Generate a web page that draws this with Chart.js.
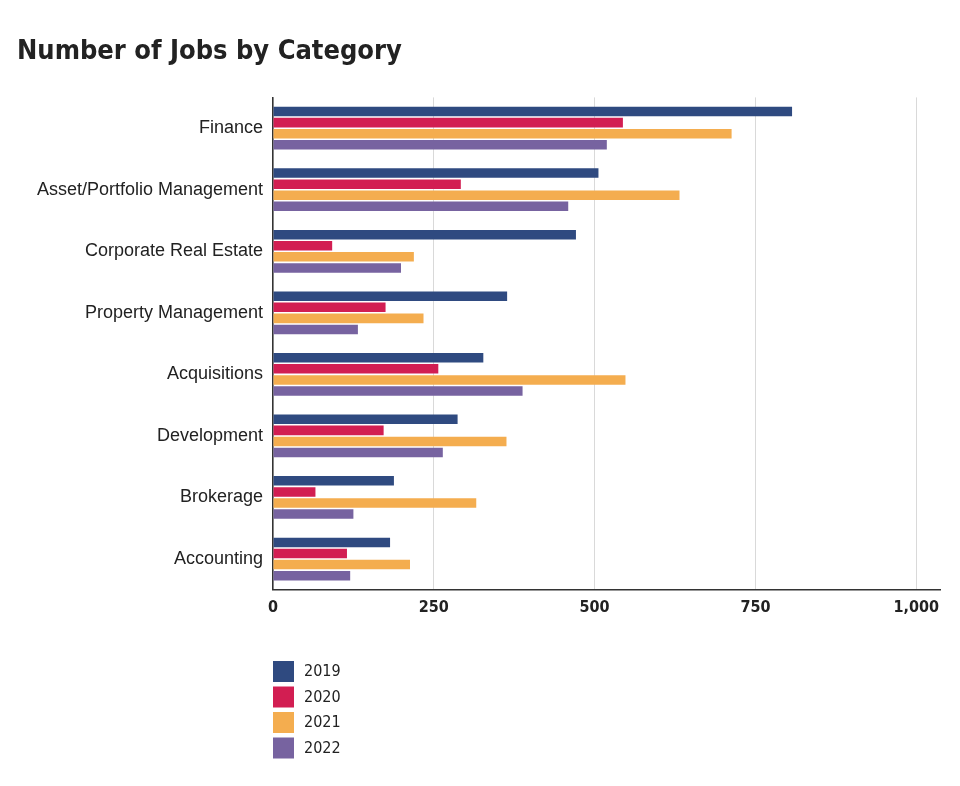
<!DOCTYPE html>
<html>
<head>
<meta charset="utf-8">
<script src="https://cdn.jsdelivr.net/npm/chart.js@4.4.1/dist/chart.umd.min.js"></script>
<style>
  html, body { margin: 0; padding: 0; background: #fff; }
  #wrap { width: 960px; height: 786px; }
</style>
</head>
<body>
<div id="wrap"><canvas id="myChart" width="960" height="786"></canvas></div>
<script>
// values
const categories = ['Finance', 'Asset/Portfolio Management', 'Corporate Real Estate', 'Property Management',
  'Acquisitions', 'Development', 'Brokerage', 'Accounting']
const years = ['2019', '2020', '2021', '2022']
const jobs2019 = [807, 506, 471, 364, 327, 287, 188, 182]
const jobs2020 = [544, 292, 92, 175, 257, 172, 66, 115]
const jobs2021 = [713, 632, 219, 234, 548, 363, 316, 213]
const jobs2022 = [519, 459, 199, 132, 388, 264, 125, 120]
const xTicks = [0, 250, 500, 750, 1000]
const colors = ['#2f4a80', '#d21e52', '#f4ad4f', '#7763a0']

const narrow = '"DejaVu Sans Condensed", "Liberation Sans Narrow", sans-serif'
const canvas = document.getElementById('myChart')

// legend as a vertical list under the chart
const listLegend = {
  id: 'listLegend',
  afterDraw(chart) {
    const ctx = chart.ctx
    ctx.save()
    ctx.font = '16px ' + narrow
    ctx.textBaseline = 'middle'
    chart.data.datasets.forEach((ds, i) => {
      const y = 671 + i * 25.5
      ctx.fillStyle = ds.backgroundColor
      ctx.fillRect(273, y - 10, 21, 21)
      ctx.fillStyle = '#222'
      ctx.fillText(ds.label, 304, y + 1)
    })
    ctx.restore()
  }
}

const series = [jobs2019, jobs2020, jobs2021, jobs2022]

const config = {
  type: 'bar',
  data: {
    labels: categories,
    datasets: years.map((y, i) => ({
      label: y,
      data: series[i],
      backgroundColor: colors[i],
      categoryPercentage: 0.72,
      barPercentage: 0.86
    }))
  },
  options: {
    indexAxis: 'y',
    responsive: false,
    animation: false,
    layout: {
      padding: {top: 0, left: 17, right: 20, bottom: 161}
    },
    plugins: {
      legend: {display: false},
      tooltip: {enabled: false},
      title: {
        display: true,
        text: 'Number of Jobs by Category',
        align: 'start',
        color: '#222',
        font: {family: narrow, size: 27, weight: 'bold'},
        padding: {top: 36, bottom: 29}
      }
    },
    scales: {
      x: {
        min: 0,
        max: 1037,
        afterBuildTicks: (scale) => { scale.ticks = xTicks.map(v => ({value: v})) },
        grid: {color: '#d9d9d9', lineWidth: 1, drawTicks: false},
        border: {color: '#333', width: 1.5},
        ticks: {
          padding: 8,
          color: '#222',
          font: {family: narrow, size: 16, weight: 'bold'}
        }
      },
      y: {
        grid: {display: false, drawTicks: false},
        border: {color: '#333', width: 1.5},
        afterFit: (scale) => { scale.width = 256 },
        ticks: {
          padding: 10,
          color: '#222',
          font: {family: '"Liberation Sans", Arial, sans-serif', size: 18}
        }
      }
    }
  },
  plugins: [listLegend]
}

const myChart = new Chart(canvas, config)
</script>
</body>
</html>
